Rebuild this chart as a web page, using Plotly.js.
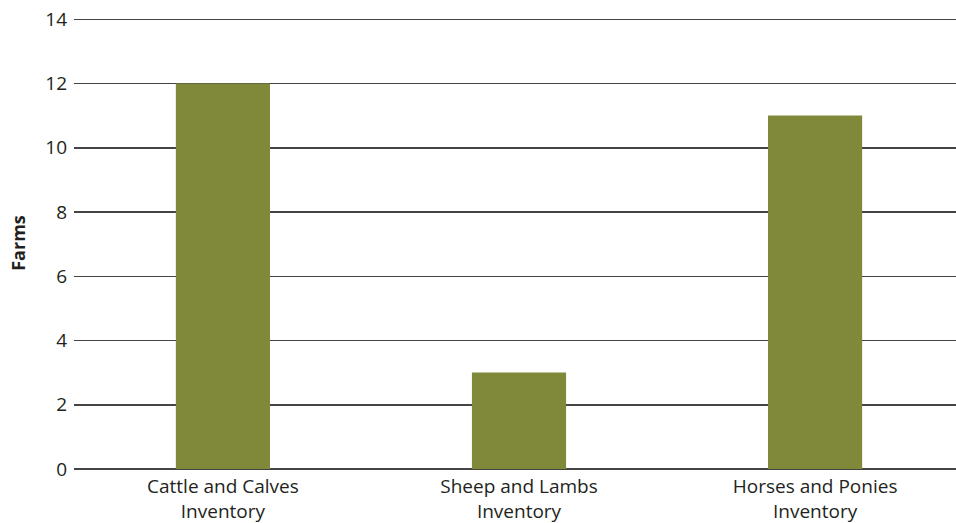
<!DOCTYPE html>
<html>
<head>
<meta charset="utf-8">
<script src="https://cdn.plot.ly/plotly-3.0.1.min.js"></script>
<style>html,body{margin:0;padding:0;background:#fff;}#chart{width:956px;height:523px;}</style>
</head>
<body>
<div id="chart"></div>
<script>
const categories = ["Cattle and Calves<br>Inventory", "Sheep and Lambs<br>Inventory", "Horses and Ponies<br>Inventory"];
const farms = [12, 3, 11];
const yTicks = [0, 2, 4, 6, 8, 10, 12, 14];

const trace = {
  type: 'bar',
  x: categories,
  y: farms,
  width: 0.318,
  marker: {color: '#7f8939', line: {width: 0}},
  hoverinfo: 'x+y'
};

const layout = {
  width: 956,
  height: 523,
  margin: {l: 74, r: 0, t: 17, b: 54, pad: 0},
  paper_bgcolor: '#ffffff',
  plot_bgcolor: '#ffffff',
  font: {family: 'Open Sans, sans-serif', size: 19, color: '#231f20'},
  showlegend: false,
  xaxis: {
    type: 'category',
    range: [-0.503, 2.476],
    showgrid: false,
    showline: false,
    zeroline: false,
    ticks: '',
    ticklabelstandoff: 4,
    tickfont: {size: 19, color: '#231f20'},
    fixedrange: true
  },
  yaxis: {
    range: [0, 14.07],
    tickvals: yTicks,
    ticktext: yTicks.map(String),
    showgrid: true,
    gridcolor: '#444444',
    gridwidth: 1.5,
    zeroline: true,
    zerolinecolor: '#444444',
    zerolinewidth: 1.5,
    showline: false,
    ticks: '',
    ticklabelstandoff: 6,
    tickfont: {size: 19, color: '#231f20'},
    title: {text: '<b>Farms</b>', font: {size: 18, color: '#231f20'}, standoff: 14},
    fixedrange: true
  }
};

Plotly.newPlot('chart', [trace], layout, {displayModeBar: false, staticPlot: true});
</script>
</body>
</html>
